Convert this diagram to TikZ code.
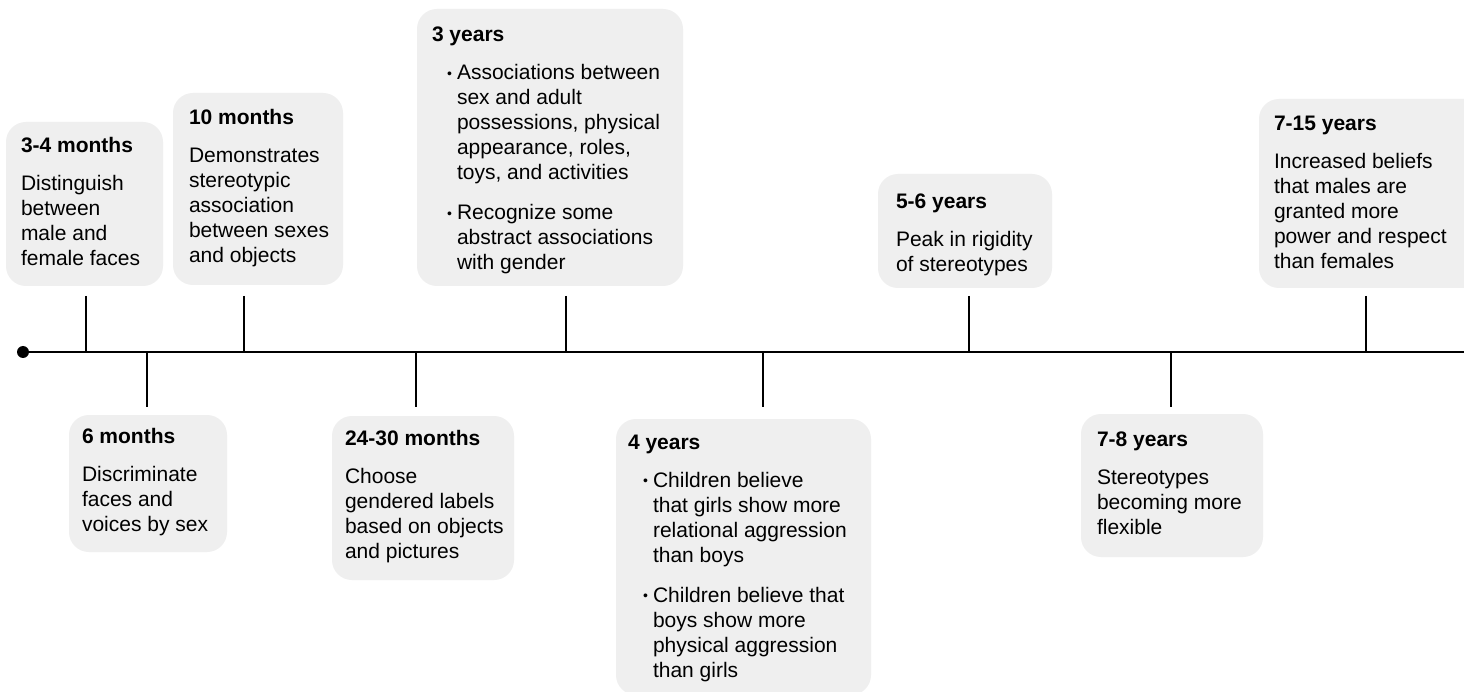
\documentclass[tikz,border=0pt]{standalone}
\usepackage{fontspec}
\setmainfont{Liberation Sans}
\definecolor{boxgray}{RGB}{239,239,239}
\newcommand{\evt}[2]{\vtop{\hbox{\bfseries #1}\vskip13pt #2}}
\newcommand{\evl}[1]{\hbox{#1}}
\newcommand{\evb}[1]{\hbox{\hskip15pt\makebox[10pt][l]{\fontsize{14pt}{14pt}\selectfont\raisebox{1.5pt}{•}}#1}}
\newcommand{\evc}[1]{\hbox{\hskip25pt #1}}
\newcommand{\evgap}{\vskip15pt}
\tikzset{
  evbox/.style={fill=boxgray, draw=none, rounded corners=20pt, anchor=north west, inner sep=0pt, outer sep=0pt},
  evtext/.style={anchor=base west, inner sep=0pt, outer sep=0pt, font=\fontsize{21pt}{25pt}\selectfont, text=black},
  tickline/.style={line width=2.6pt, black},
  mainline/.style={line width=2.8pt, black}
}
\begin{document}
\begin{tikzpicture}[x=1pt,y=-1pt]
\useasboundingbox (0,0) rectangle (1464,692);
\clip (0,0) rectangle (1464,692);
\fill[white] (0,0) rectangle (1464,692);

% boxes
\node[evbox, minimum width=157pt, minimum height=164pt] (b1) at (6,122) {};
\node[evbox, minimum width=170pt, minimum height=192pt] (b2) at (173,93) {};
\node[evbox, minimum width=266pt, minimum height=277pt] (b3) at (417,9) {};
\node[evbox, minimum width=158pt, minimum height=137pt] (b4) at (69,415) {};
\node[evbox, minimum width=182pt, minimum height=164pt] (b5) at (332,416) {};
\node[evbox, minimum width=255pt, minimum height=276pt] (b6) at (616,419) {};
\node[evbox, minimum width=174pt, minimum height=114pt] (b7) at (878,174) {};
\node[evbox, minimum width=182pt, minimum height=143pt] (b8) at (1081,414) {};
\node[evbox, minimum width=230pt, minimum height=189pt] (b9) at (1259,99) {};

% texts
\node[evtext] (t1) at (21,153) {\evt{3-4 months}{\evl{Distinguish}\evl{between}\evl{male and}\evl{female faces}}};
\node[evtext] (t2) at (189,125) {\evt{10 months}{\evl{Demonstrates}\evl{stereotypic}\evl{association}\evl{between sexes}\evl{and objects}}};
\node[evtext] (t3) at (432,42) {\evt{3 years}{\evb{Associations between}\evc{sex and adult}\evc{possessions, physical}\evc{appearance, roles,}\evc{toys, and activities}\evgap\evb{Recognize some}\evc{abstract associations}\evc{with gender}}};
\node[evtext] (t4) at (82,443) {\evt{6 months}{\evl{Discriminate}\evl{faces and}\evl{voices by sex}}};
\node[evtext] (t5) at (345,445) {\evt{24-30 months}{\evl{Choose}\evl{gendered labels}\evl{based on objects}\evl{and pictures}}};
\node[evtext] (t6) at (628,449) {\evt{4 years}{\evb{Children believe}\evc{that girls show more}\evc{relational aggression}\evc{than boys}\evgap\evb{Children believe that}\evc{boys show more}\evc{physical aggression}\evc{than girls}}};
\node[evtext] (t7) at (896,209) {\evt{5-6 years}{\evl{Peak in rigidity}\evl{of stereotypes}}};
\node[evtext] (t8) at (1097,446) {\evt{7-8 years}{\evl{Stereotypes}\evl{becoming more}\evl{flexible}}};
\node[evtext] (t9) at (1274,131) {\evt{7-15 years}{\evl{Increased beliefs}\evl{that males are}\evl{granted more}\evl{power and respect}\evl{than females}}};

% timeline
\node[circle, fill=black, minimum size=12pt, inner sep=0pt] (dot) at (23,352) {};
\coordinate (tend) at (1464,352);
\draw[mainline] (dot.center) -- (tend);

% ticks above
\foreach \n/\x in {1/86, 2/244, 3/566, 7/969, 9/1366} {
  \coordinate (u\n) at (\x,296);
  \coordinate (a\n) at (\x,352);
  \draw[tickline] (u\n) -- (a\n);
}
% ticks below
\foreach \n/\x in {4/147, 5/416, 6/763, 8/1171} {
  \coordinate (d\n) at (\x,407);
  \coordinate (a\n) at (\x,352);
  \draw[tickline] (a\n) -- (d\n);
}
\end{tikzpicture}
\end{document}
